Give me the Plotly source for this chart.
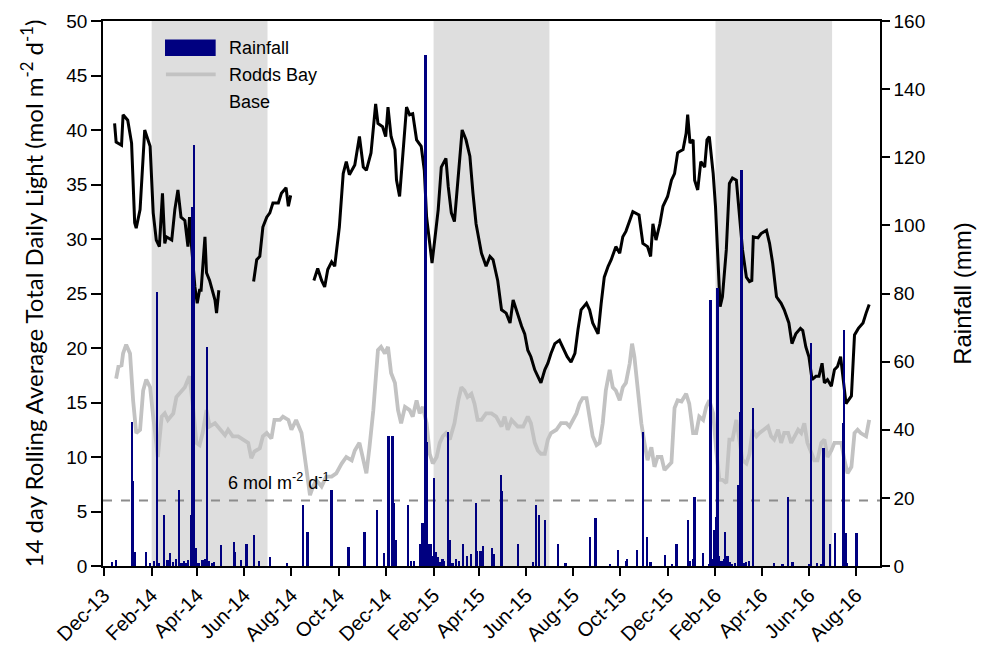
import pandas as pd
import plotly.graph_objects as go

# All series are indexed by days since 1 December 2013
START = pd.Timestamp("2013-12-01")

# Base site: 14 day rolling average total daily light (mol m-2 d-1); None marks logger gaps
base_day = [14, 16, 23, 25, 31, 36, 40, 42, 47, 53, 60, 64, 68, 72, 76, 79, 81, 88, 92, 96,
            100, 105, 109, 111, 113, 118, 121, 124, 126, 131, 133, 137, 144, 146, 149,
            170,
            194, 198, 202, 206, 211, 215, 219, 226, 230, 236, 239, 242,
            255,
            272, 277, 282, 286, 290, 295, 299, 305, 310, 314, 318, 325, 331, 336, 340, 346,
            352, 355, 361, 365, 368, 372, 377, 379, 383, 387, 392, 396, 400, 405, 411, 415,
            418, 422, 425, 428, 433, 437, 443, 446, 450, 454, 459, 464, 469, 474, 478, 482,
            489, 495, 500, 504, 510, 515, 521, 526, 530, 535, 541, 545, 549, 553, 558, 562,
            566, 571, 575, 579, 584, 590, 594, 600, 605, 610, 614, 618, 625, 629, 633, 640,
            644, 648, 653, 657, 663, 668, 672, 676, 681, 685, 693, 698, 704, 708, 711, 715,
            720, 724, 730, 735, 739, 743, 745, 750, 754, 756, 759, 763, 765, 769, 773, 778,
            781, 784, 789, 792, 795, 798, 801, 806, 810, 814, 819, 823, 827, 832, 836, 839,
            841, 847, 851, 858, 862, 866, 871, 877, 881, 887, 891, 896, 902, 905, 909, 913,
            917, 922, 926, 930, 933, 937, 942, 946, 950, 954, 957, 961, 968, 972, 977, 983,
            987, 991]
base_light = [40.6, 38.9, 38.6, 41.4, 40.9, 38.8, 31.5, 31.0, 32.7, 40.0, 38.5, 32.4, 29.9, 29.3,
              34.2, 29.6, 30.2, 29.9, 32.7, 34.5, 32.0, 31.7, 29.3, 32.0, 29.9, 25.6, 24.1, 25.3,
              25.3, 30.2, 26.9, 26.2, 24.4, 23.2, 25.3,
              None,
              26.1, 28.1, 28.4, 31.1, 32.0, 32.4, 33.3, 33.3, 34.2, 34.7, 33.0, 34.0,
              None,
              26.2, 27.3, 26.2, 25.6, 27.2, 27.9, 27.5, 31.1, 36.0, 37.1, 35.9, 36.8, 39.4, 36.6,
              36.3, 37.9, 42.4, 40.6, 40.3, 39.4, 42.1, 39.4, 38.2, 35.4, 33.9, 37.6, 42.1, 41.4,
              41.5, 39.1, 38.5, 36.3, 32.0, 29.6, 27.8, 29.6, 32.7, 36.6, 37.4, 34.8, 32.4, 31.6,
              36.0, 40.0, 39.1, 37.6, 34.2, 31.4, 28.7, 27.5, 28.4, 28.1, 26.2, 23.5, 23.2, 22.3,
              24.4, 23.2, 22.0, 21.3, 19.8, 19.2, 18.0, 17.4, 16.8, 18.0, 18.6, 19.5, 20.4, 20.7,
              20.1, 19.2, 18.7, 19.5, 21.7, 23.5, 24.1, 23.5, 22.3, 21.3, 24.1, 26.5, 27.5, 28.1,
              29.3, 28.7, 30.2, 30.7, 31.7, 32.5, 32.2, 29.6, 29.3, 28.4, 31.4, 29.9, 31.4, 33.0,
              33.9, 35.4, 36.0, 37.9, 38.0, 38.2, 39.7, 41.4, 38.8, 39.1, 35.4, 34.5, 37.1, 36.6,
              39.1, 39.4, 36.0, 33.0, 28.4, 23.8, 24.7, 29.0, 35.1, 35.6, 35.4, 32.4, 29.0, 26.5,
              26.1, 26.2, 30.2, 30.1, 30.5, 30.8, 29.6, 27.8, 24.7, 24.1, 23.5, 22.3, 20.4, 21.3,
              21.8, 21.6, 20.1, 19.2, 17.1, 17.4, 17.4, 18.6, 16.8, 17.1, 16.5, 18.0, 18.3, 19.2,
              17.1, 14.9, 15.6, 21.2, 21.8, 22.3, 23.2, 24.0]

# Rodds Bay: 14 day rolling average total daily light (mol m-2 d-1)
rodds_day = [16, 19, 23, 25, 29, 34, 38, 42, 47, 51, 55, 60, 64, 68, 70, 75, 79, 83, 90, 94,
             98, 105, 109, 111, 116, 120, 124, 128, 133, 137, 144, 150, 157, 161, 167, 174, 180,
             187, 191, 195, 202, 206, 211, 217, 221, 228, 232, 239, 243, 249, 256, 260, 264,
             267, 271, 275, 282, 288, 295, 301, 308, 314, 321, 325, 331, 336, 340, 344, 349,
             353, 355, 359, 364, 368, 372, 377, 381, 385, 390, 396, 400, 405, 409, 413, 418,
             422, 426, 431, 435, 439, 443, 448, 454, 459, 463, 467, 471, 476, 480, 484, 489,
             495, 502, 508, 515, 519, 523, 528, 532, 536, 543, 549, 553, 558, 562, 566, 571,
             575, 579, 586, 592, 599, 603, 607, 612, 616, 620, 625, 629, 633, 638, 642, 646,
             650, 655, 659, 663, 668, 672, 676, 681, 684, 687, 691, 696, 700, 704, 709, 713,
             717, 722, 726, 730, 735, 739, 743, 748, 754, 758, 763, 767, 771, 776, 780, 784,
             789, 793, 797, 801, 806, 810, 814, 819, 823, 827, 832, 836, 840, 845, 849, 855,
             860, 864, 868, 873, 877, 881, 886, 890, 894, 899, 903, 907, 911, 916, 920, 924,
             929, 933, 937, 942, 946, 950, 955, 959, 963, 968, 972, 976, 980, 987, 991]
rodds_light = [17.2, 18.3, 18.4, 19.5, 20.3, 19.5, 15.2, 12.2, 12.5, 16.1, 17.1, 16.4, 13.7,
               11.3, 10.0, 13.7, 14.0, 13.4, 14.0, 15.5, 15.8, 16.4, 17.1, 17.4, 14.3, 11.3,
               11.1, 12.2, 14.3, 12.8, 13.1, 12.6, 12.0, 12.5, 11.9, 11.9, 11.6, 11.3, 9.9,
               10.5, 10.8, 11.9, 12.2, 11.7, 13.4, 13.4, 13.7, 13.4, 12.5, 13.4, 12.2, 10.0,
               7.9, 6.5, 7.3, 7.9, 7.3, 8.2, 8.2, 8.5, 9.4, 10.0, 9.7, 10.6, 11.3, 9.7, 8.5,
               10.9, 14.3, 18.0, 19.8, 20.1, 19.5, 20.1, 17.7, 16.8, 14.3, 13.1, 14.6, 14.3,
               13.7, 15.2, 14.0, 14.6, 13.1, 10.3, 9.4, 10.0, 11.3, 11.9, 12.2, 11.6, 13.1,
               15.2, 16.4, 16.1, 15.5, 15.8, 14.9, 13.4, 13.4, 14.0, 14.0, 13.7, 12.8, 13.7,
               12.5, 13.4, 13.1, 12.8, 12.8, 13.7, 13.1, 11.3, 10.6, 10.3, 10.3, 11.6, 12.2,
               12.5, 13.1, 13.1, 12.8, 13.4, 14.0, 14.9, 15.4, 15.4, 13.7, 11.9, 11.1, 11.3,
               13.1, 16.1, 18.0, 16.4, 16.1, 15.2, 16.4, 16.8, 18.6, 20.4, 19.2, 16.1, 13.1,
               11.3, 9.7, 10.9, 9.1, 10.0, 10.0, 8.8, 9.1, 9.5, 14.5, 15.2, 15.1, 15.8, 14.9,
               12.2, 12.2, 13.7, 13.4, 14.6, 15.2, 14.0, 10.6, 7.9, 7.9, 7.6, 11.6, 11.6, 13.4,
               11.3, 9.7, 9.4, 10.3, 12.5, 11.9, 12.2, 12.5, 12.8, 11.9, 11.6, 12.5, 11.3,
               12.2, 12.2, 11.3, 11.9, 12.5, 12.2, 13.1, 11.3, 10.3, 9.7, 9.7, 11.3, 11.6,
               10.0, 10.6, 11.3, 11.3, 11.3, 9.7, 8.5, 9.1, 12.2, 12.5, 12.2, 11.9, 13.4]

# Daily rainfall (mm)
rain_day = [11, 16, 37, 38, 41, 55, 60, 65, 69, 72, 78, 83, 86, 90, 94, 98, 101, 104, 107,
            109, 113, 115, 117, 119, 120, 123, 128, 131, 134, 137, 140, 143, 152, 169, 170,
            178, 185, 195, 201, 216, 238, 258, 264, 295, 317, 338, 354, 363, 369, 374, 376,
            378, 394, 398, 402, 410, 413, 417, 419, 421, 424, 426, 428, 430, 433, 435, 439,
            441, 446, 448, 452, 456, 460, 465, 471, 476, 482, 484, 488, 491, 503, 505, 515,
            516, 537, 556, 560, 564, 572, 588, 598, 630, 637, 656, 666, 676, 678, 691, 698,
            704, 708, 727, 736, 742, 757, 759, 763, 765, 776, 784, 786, 788, 790, 793, 795,
            797, 800, 803, 805, 808, 811, 814, 818, 822, 823, 824, 826, 827, 829, 832, 836,
            841, 868, 879, 886, 892, 914, 916, 924, 929, 932, 941, 947, 957, 959, 961, 963,
            975]
rain_mm = [1.3, 1.8, 42.4, 25.0, 4.2, 4.2, 1.0, 1.5, 80.5, 0.8, 15.0, 1.8, 3.7, 1.2, 2.0,
           22.3, 1.0, 1.5, 0.8, 1.8, 15.0, 105.5, 123.6, 5.3, 1.8, 1.0, 1.8, 2.2, 64.4, 1.5,
           0.8, 1.2, 6.2, 7.1, 4.2, 1.8, 6.6, 9.1, 1.5, 2.7, 1.0, 17.9, 10.1, 22.3, 5.7, 10.1,
           16.4, 3.7, 38.2, 38.2, 18.4, 7.6, 17.9, 1.5, 1.5, 6.6, 12.5, 150.0, 36.5, 6.6, 6.6,
           3.0, 25.7, 4.0, 2.5, 1.2, 2.0, 1.5, 39.4, 7.6, 1.0, 2.0, 1.5, 6.6, 3.0, 3.6, 18.4,
           4.4, 4.4, 6.0, 5.2, 3.6, 26.7, 22.0, 6.6, 1.2, 17.9, 15.0, 13.5, 6.6, 1.0, 8.6,
           14.0, 0.5, 4.7, 1.5, 2.0, 4.7, 39.4, 8.6, 1.2, 3.2, 0.5, 6.6, 13.5, 1.6, 2.1, 20.3,
           3.7, 0.5, 78.1, 2.0, 10.6, 14.5, 81.5, 3.0, 1.5, 2.0, 10.1, 3.0, 1.2, 0.5, 1.0,
           23.8, 1.5, 45.3, 116.3, 82.0, 1.0, 1.2, 1.5, 46.3, 1.0, 0.5, 20.3, 1.2, 0.5, 65.4,
           1.0, 0.5, 34.6, 6.6, 9.6, 41.9, 69.3, 9.6, 1.0, 9.6]

# Shaded periods (February to June of each year)
shade_start = ["2014-02-01", "2015-02-01", "2016-02-01"]
shade_end = ["2014-07-01", "2015-07-01", "2016-07-01"]

threshold = 6  # mol m-2 d-1 reference level
threshold_label = "6 mol m<sup>-2</sup> d<sup>-1</sup>"
legend_labels = ["Rainfall", "Rodds Bay", "Base"]


def to_dates(days):
    return [START + pd.Timedelta(days=d) for d in days]


FONT = "Arial, Liberation Sans, sans-serif"
NAVY = "#000080"
GREY = "#c2c2c2"

fig = go.Figure()

fig.add_trace(go.Scatter(
    x=to_dates(rodds_day), y=rodds_light, mode="lines", name=legend_labels[1],
    line=dict(color=GREY, width=3.8), showlegend=False))
fig.add_trace(go.Scatter(
    x=to_dates(base_day), y=base_light, mode="lines", name=legend_labels[2],
    line=dict(color="black", width=3), connectgaps=False, showlegend=False))
fig.add_trace(go.Bar(
    x=to_dates(rain_day), y=rain_mm, name=legend_labels[0], yaxis="y2",
    marker=dict(color=NAVY, line_width=0), width=2.3 * 86400000, showlegend=False))

shapes = []
for s, e in zip(shade_start, shade_end):
    shapes.append(dict(type="rect", xref="x", yref="paper", x0=s, x1=e, y0=0, y1=1,
                       fillcolor="#dedede", line_width=0, layer="below"))
shapes.append(dict(type="line", xref="paper", yref="y", x0=0, x1=1, y0=threshold,
                   y1=threshold, line=dict(color="#8c8c8c", width=2, dash="dash"),
                   layer="below"))

# Hand-drawn legend keys
shapes.append(dict(type="rect", xref="paper", yref="paper", x0=0.0798, x1=0.145,
                   y0=0.936, y1=0.966, fillcolor=NAVY, line_width=0))
shapes.append(dict(type="line", xref="paper", yref="paper", x0=0.081, x1=0.145,
                   y0=0.902, y1=0.902, line=dict(color=GREY, width=3.8)))

annotations = []
for lab, yy in zip(legend_labels, [0.951, 0.901, 0.852]):
    annotations.append(dict(xref="paper", yref="paper", x=0.1596, y=yy, text=lab,
                            showarrow=False, xanchor="left", yanchor="middle",
                            font=dict(family=FONT, size=18, color="black")))
annotations.append(dict(xref="x", yref="y", x=START + pd.Timedelta(days=158), y=threshold + 0.5,
                        text=threshold_label, showarrow=False, xanchor="left",
                        yanchor="bottom", font=dict(family=FONT, size=18, color="black")))

fig.update_layout(
    width=987, height=648,
    margin=dict(l=103, r=107, t=21, b=82, pad=0, autoexpand=False),
    paper_bgcolor="white", plot_bgcolor="white",
    font=dict(family=FONT, size=18, color="black"),
    shapes=shapes, annotations=annotations,
    bargap=0,
    xaxis=dict(
        type="date", range=["2013-11-30", "2016-09-01"], automargin=False,
        tickmode="linear", tick0="2013-12-01", dtick="M2", tickformat="%b-%y",
        tickangle=-45, ticks="outside", ticklen=8, tickwidth=1.5, tickcolor="black",
        showline=True, linecolor="black", linewidth=1.5, mirror=True,
        showgrid=False, zeroline=False, tickfont=dict(size=20)),
    yaxis=dict(
        range=[0, 50], dtick=5, ticks="outside", ticklen=10, tickwidth=1.5,
        automargin=False,
        tickcolor="black", showline=True, linecolor="black", linewidth=1.5,
        showgrid=False, zeroline=False, tickfont=dict(size=19),
        title=dict(text="14 day Rolling Average Total Daily Light (mol m<sup>-2</sup> d<sup>-1</sup>)",
                   font=dict(family="Lato, Carlito, sans-serif", size=24), standoff=16)),
    yaxis2=dict(
        range=[0, 160], dtick=20, overlaying="y", side="right", ticks="outside",
        automargin=False,
        ticklen=8, tickwidth=1.5, tickcolor="black", showline=True, linecolor="black",
        linewidth=1.5, showgrid=False, zeroline=False, tickfont=dict(size=19),
        title=dict(text="Rainfall (mm)", font=dict(size=24), standoff=30)),
)

fig.write_html("out.html")
